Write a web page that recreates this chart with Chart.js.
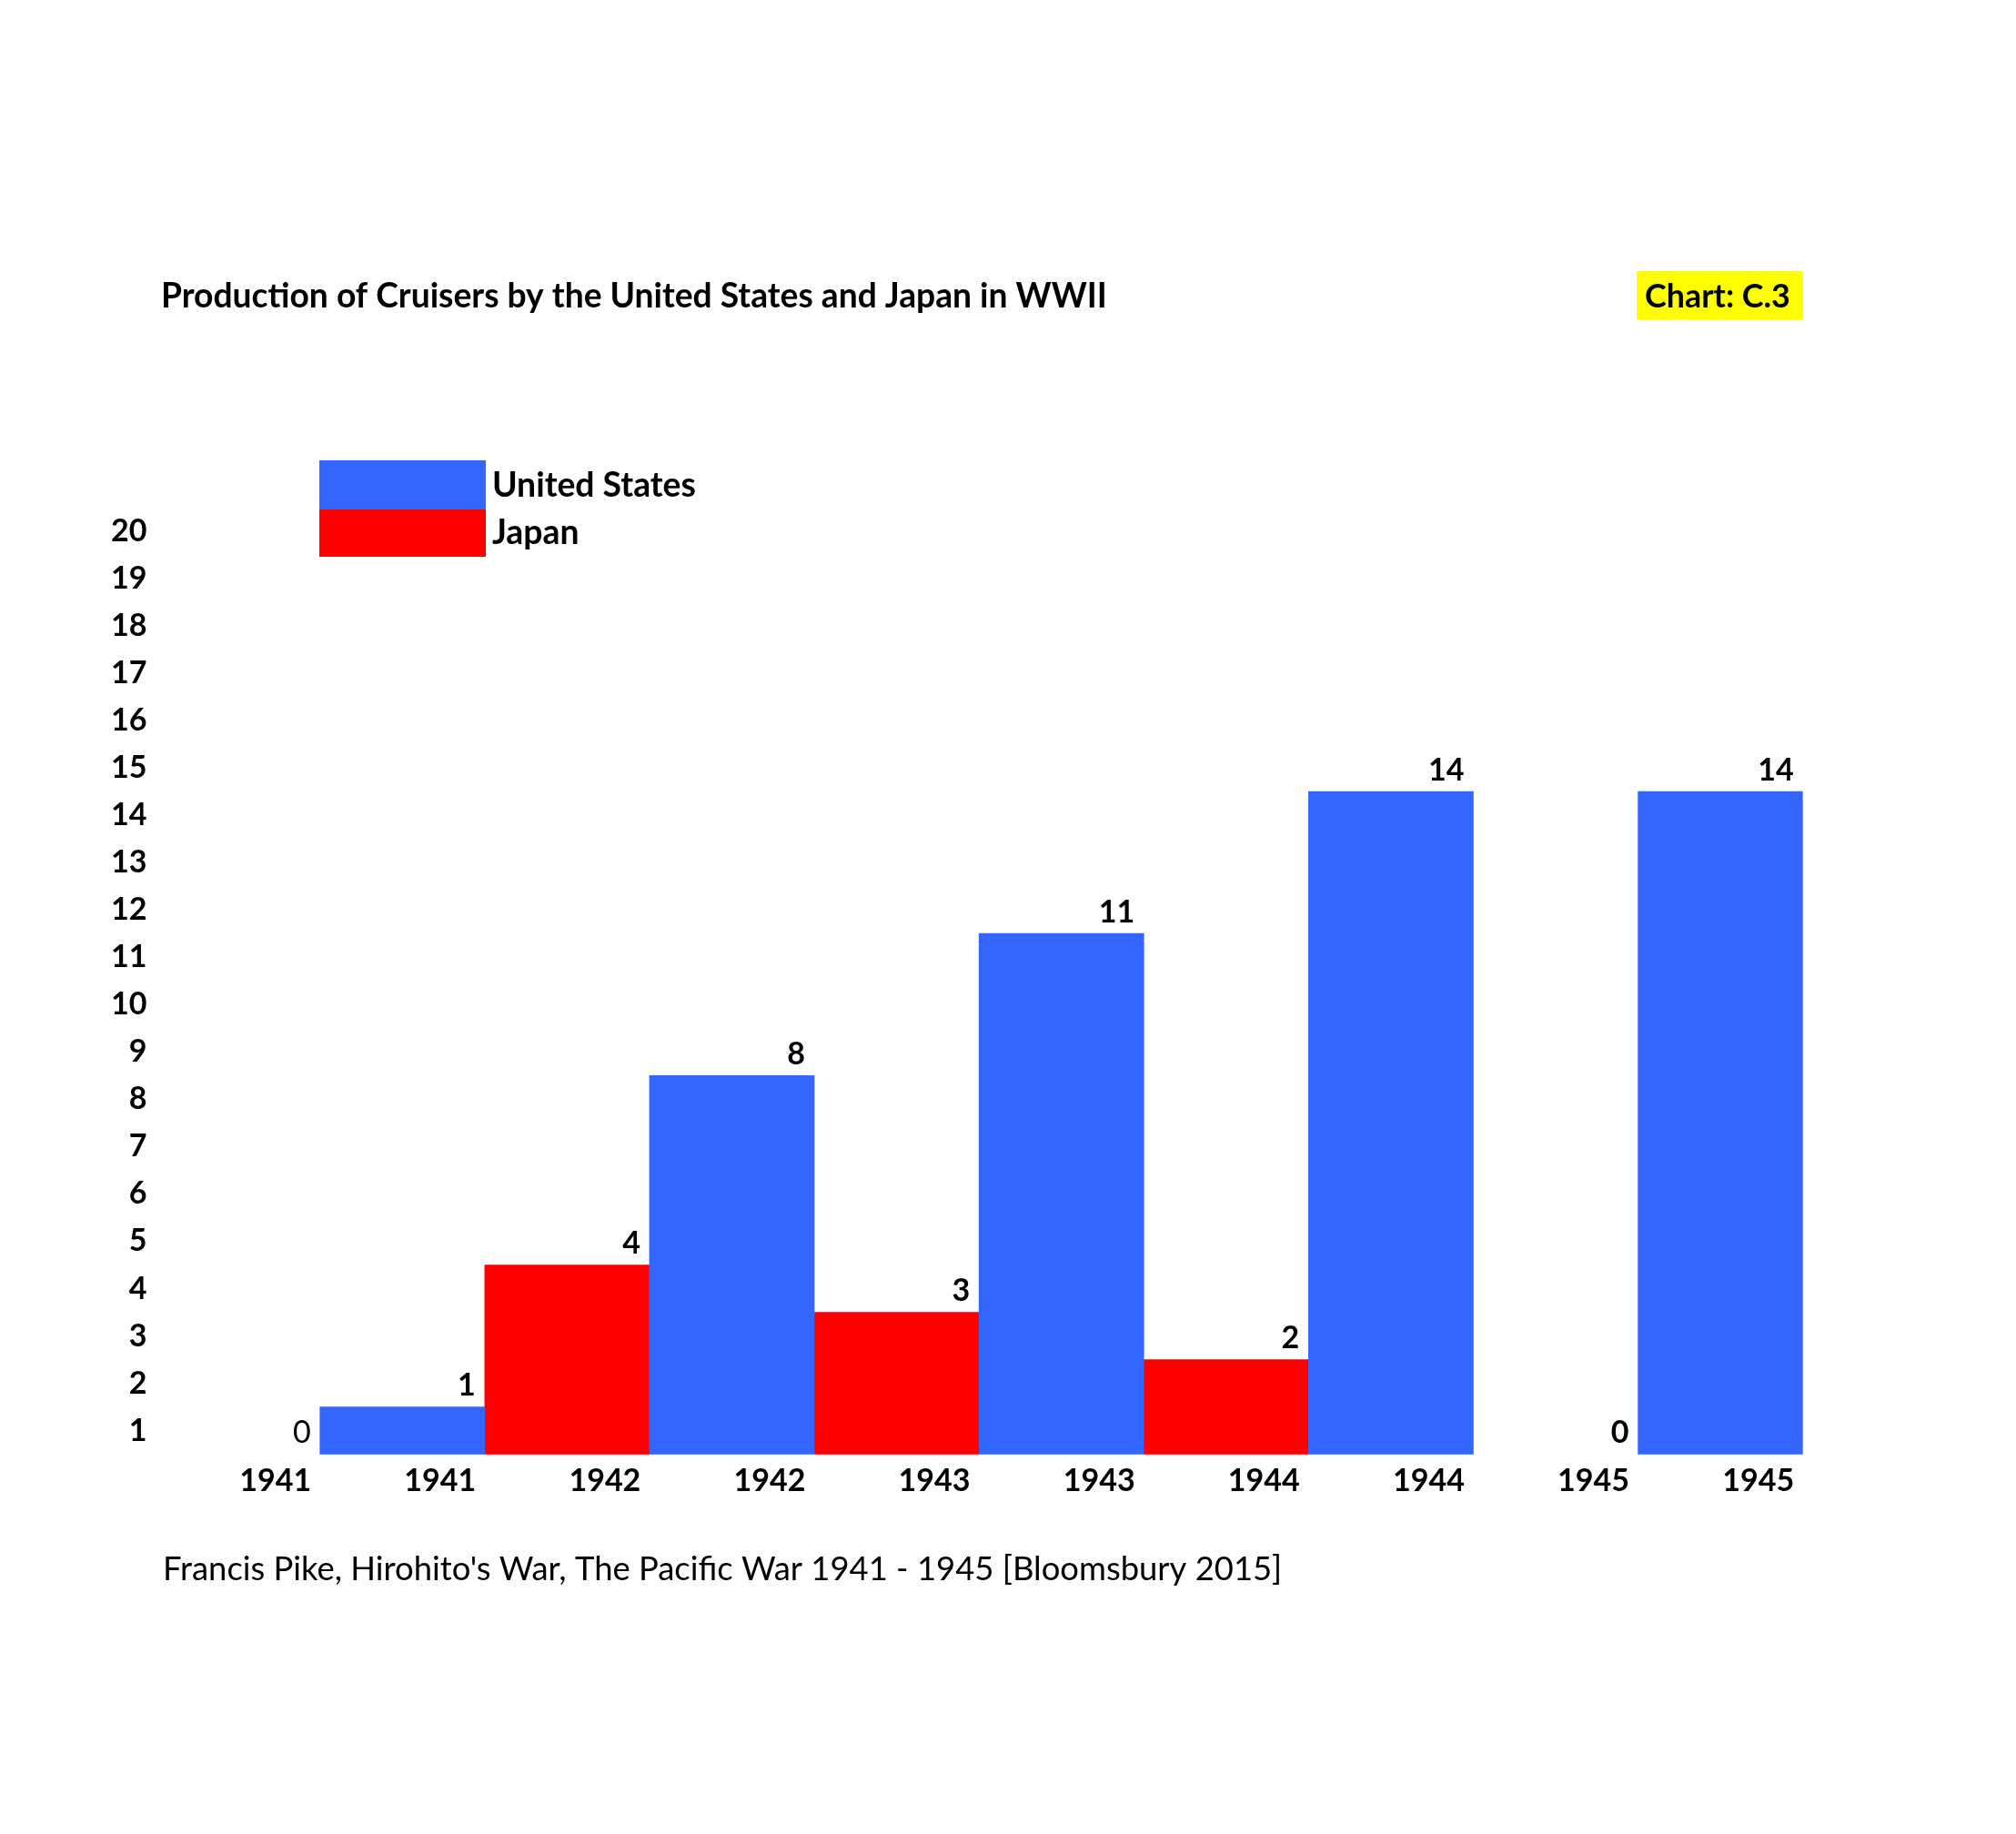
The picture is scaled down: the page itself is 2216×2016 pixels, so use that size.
<!DOCTYPE html>
<html><head><meta charset="utf-8">
<script src="https://cdn.jsdelivr.net/npm/chart.js@4.4.1/dist/chart.umd.min.js"></script>
<style>html,body{margin:0;padding:0;background:#fff;} canvas{display:block;}</style>
</head><body>
<canvas id="c" width="2216" height="2016"></canvas>
<script>
// ---- data ----
const years = ['1941', '1942', '1943', '1944', '1945'];
const usValues = [1, 8, 11, 14, 14];
const japanValues = [0, 4, 3, 2, 0];
const yTickLabels = ['1','2','3','4','5','6','7','8','9','10','11','12','13','14','15','16','17','18','19','20'];
const seriesNames = ['United States', 'Japan'];
const titleText = 'Production of Cruisers by the United States and Japan in WWII';
const chartTag = 'Chart: C.3';
const sourceText = "Francis Pike, Hirohito's War, The Pacific War 1941 - 1945 [Bloomsbury 2015]";

// categories: for each year a Japan bar then a US bar
const categories = [], japanSeries = [], usSeries = [];
years.forEach((y, i) => {
  categories.push(y); japanSeries.push(japanValues[i]); usSeries.push(null);
  categories.push(y); japanSeries.push(null); usSeries.push(usValues[i]);
});

const BLUE = '#3366FF', RED = '#FF0000';
const FAMILY = 'Lato, "Open Sans", sans-serif';
const mctx = document.createElement('canvas').getContext('2d');
function fit(text, weight, target) {
  mctx.font = weight + ' 100px ' + FAMILY;
  return 100 * target / mctx.measureText(text).width;
}
const titleSize = fit(titleText, 'bold', 1040);
const tagSize = fit(chartTag, 'bold', 160);
const legendSize = fit(seriesNames[0], 'bold', 224);
const tickSize = fit('1941', 'bold', 79);
const sourceSize = fit(sourceText, 'normal', 1231);

const decor = {
  id: 'decor',
  afterDraw(chart) {
    const c = chart.ctx;
    c.save();
    c.textBaseline = 'alphabetic';
    c.textAlign = 'left';
    c.fillStyle = '#000';
    c.font = 'bold ' + titleSize + 'px ' + FAMILY;
    c.fillText(titleText, 177, 338);
    // chart tag
    c.fillStyle = '#FFFF00';
    c.fillRect(1799, 298, 183, 53);
    c.fillStyle = '#000';
    c.font = 'bold ' + tagSize + 'px ' + FAMILY;
    c.fillText(chartTag, 1808, 338);
    // legend
    const ds = chart.data.datasets;
    const rows = [[506, 54, 546], [560, 52, 598]];
    ds.forEach((d, i) => {
      c.fillStyle = d.legendColor;
      c.fillRect(351, rows[i][0], 183, rows[i][1]);
      c.fillStyle = '#000';
      c.font = 'bold ' + legendSize + 'px ' + FAMILY;
      c.fillText(d.label, 541, rows[i][2]);
    });
    // source
    c.font = 'normal ' + sourceSize + 'px ' + FAMILY;
    c.fillText(sourceText, 179, 1737);
    c.restore();
  },
  afterDatasetsDraw(chart) {
    const c = chart.ctx;
    c.save();
    c.textAlign = 'right';
    c.textBaseline = 'alphabetic';
    c.fillStyle = '#000';
    chart.data.datasets.forEach((d, di) => {
      const meta = chart.getDatasetMeta(di);
      meta.data.forEach((el, i) => {
        const v = d.data[i];
        if (v === null || v === undefined) return;
        const regular = (di === 1 && i === 0);
        c.font = (regular ? 'normal ' : 'bold ') + tickSize + 'px ' + FAMILY;
        c.fillText(String(v), el.x + el.width / 2 - 10, el.y - 12.5);
      });
    });
    c.restore();
  }
};

const barColor = col => ctx => (ctx.raw ? col : 'rgba(0,0,0,0)');
const tickFont = { family: FAMILY, size: tickSize, weight: 'bold' };
new Chart(document.getElementById('c').getContext('2d'), {
  type: 'bar',
  data: {
    labels: categories,
    datasets: [
      { label: seriesNames[0], data: usSeries, legendColor: BLUE, backgroundColor: barColor(BLUE) },
      { label: seriesNames[1], data: japanSeries, legendColor: RED, backgroundColor: barColor(RED) }
    ]
  },
  options: {
    responsive: false, animation: false, devicePixelRatio: 1,
    layout: { padding: { left: 100.6, right: 234.3, top: 557.7, bottom: 317.3 } },
    plugins: { legend: { display: false }, title: { display: false }, tooltip: { enabled: false } },
    datasets: { bar: { barPercentage: 1, categoryPercentage: 1, borderWidth: 0 } },
    scales: {
      x: {
        stacked: true,
        grid: { display: false, drawTicks: false }, border: { display: false },
        ticks: { font: tickFont, color: '#000', padding: 9, labelOffset: 41.5, maxRotation: 0, minRotation: 0, autoSkip: false },
        afterFit: s => { s.height = 100; }
      },
      y: {
        stacked: true, min: 0, max: 20,
        grid: { display: false, drawTicks: false }, border: { display: false },
        afterBuildTicks: s => { s.ticks = yTickLabels.map(l => ({ value: Number(l) - 0.5 })); },
        ticks: { font: tickFont, color: '#000', padding: 9, autoSkip: false, callback: (v, i) => yTickLabels[i] },
        afterFit: s => { s.width = 70; }
      }
    }
  },
  plugins: [decor]
});
</script>
</body></html>
